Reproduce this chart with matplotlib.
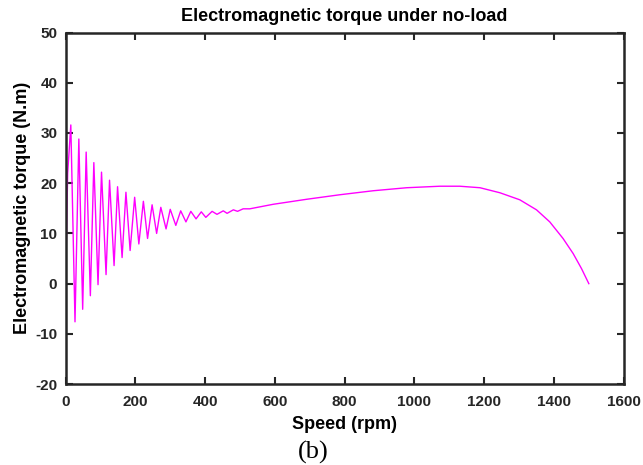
import matplotlib.pyplot as plt
import numpy as np

# speed (rpm) and electromagnetic torque (N.m)
speed = [0, 6, 15, 27, 38, 49, 59, 71, 81, 93, 103, 116, 126, 139, 149, 162,
         173, 185, 198, 210, 223, 235, 248, 261, 273, 288, 300, 316, 330, 345,
         359, 374, 389, 402, 420, 434, 452, 463, 481, 493, 509, 528, 595, 691,
         786, 882, 978, 1073, 1130, 1188, 1245, 1302, 1350, 1388, 1426, 1455,
         1479, 1500]
torque = [0, 22, 31.6, -7.6, 28.8, -5.1, 26.2, -2.4, 24.1, -0.2, 22.2, 1.8,
          20.6, 3.6, 19.3, 5.2, 18.2, 6.6, 17.2, 7.9, 16.4, 9.0, 15.7, 10.0,
          15.2, 10.9, 14.8, 11.6, 14.5, 12.3, 14.4, 12.9, 14.3, 13.2, 14.4,
          13.8, 14.5, 14.0, 14.7, 14.4, 14.9, 14.9, 15.8, 16.8, 17.7, 18.5,
          19.1, 19.4, 19.4, 19.1, 18.1, 16.7, 14.7, 12.3, 9.0, 6.0, 3.0, 0.0]

xticks = [0, 200, 400, 600, 800, 1000, 1200, 1400, 1600]
yticks = [-20, -10, 0, 10, 20, 30, 40, 50]

plt.rcParams['font.family'] = ['Liberation Sans', 'DejaVu Sans']
plt.rcParams['axes.unicode_minus'] = False

fig = plt.figure(figsize=(6.43, 4.65), dpi=100)
ax = fig.add_axes([0.102, 0.174, 0.868, 0.756])

ax.plot(speed, torque, color='#FF00FF', lw=1.0)

ax.set_xlim(0, 1600)
ax.set_ylim(-20, 50)
ax.set_xticks(xticks)
ax.set_yticks(yticks)
ax.tick_params(direction='in', top=True, right=True, length=5, width=1.5,
               labelsize=11, color='#262626')
ax.tick_params(axis='x', pad=8)
ax.tick_params(axis='y', pad=6)
for lab in ax.get_xticklabels() + ax.get_yticklabels():
    lab.set_fontweight('bold')
    lab.set_color('#262626')
for s in ax.spines.values():
    s.set_linewidth(1.8)
    s.set_color('#262626')

ax.set_title('Electromagnetic torque under no-load', fontsize=13,
             fontweight='bold', pad=8)
ax.set_xlabel('Speed (rpm)', fontsize=13, fontweight='bold', labelpad=5)
ax.set_ylabel('Electromagnetic torque (N.m)', fontsize=13,
              fontweight='bold', labelpad=3)

fig.text(0.487, 0.028, '(b)', ha='center', va='center', fontsize=19,
         family='Liberation Serif')

plt.savefig('out.png', dpi=100)
